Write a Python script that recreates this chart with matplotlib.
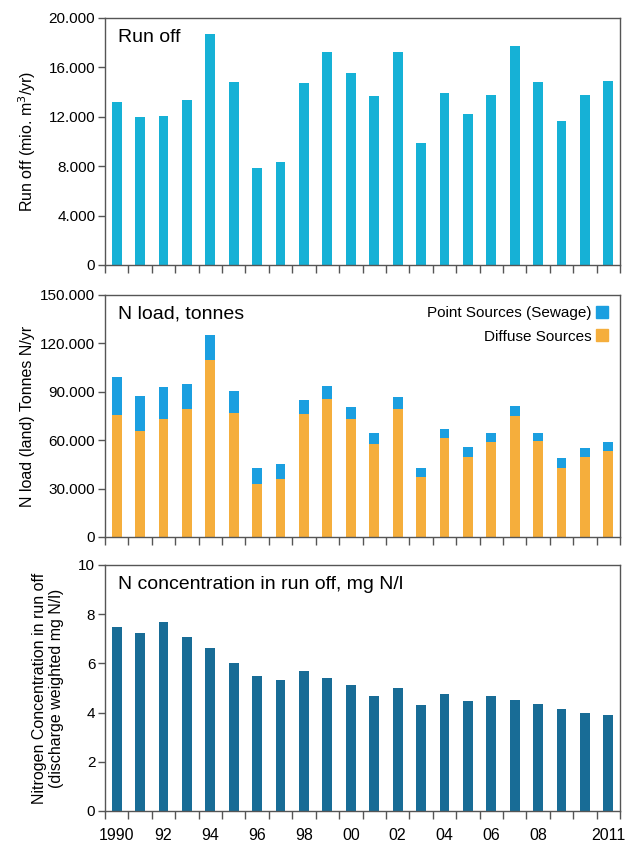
"""Run off, nitrogen load and nitrogen concentration, 1990-2011."""
import matplotlib
matplotlib.use("Agg")
import matplotlib.pyplot as plt
from matplotlib.lines import Line2D
from matplotlib.ticker import FuncFormatter, FixedLocator, MultipleLocator

plt.rcParams["font.family"] = ["Liberation Sans", "DejaVu Sans"]

YEARS = list(range(1990, 2012))
YEAR_LABELS = ["1990", "", "92", "", "94", "", "96", "", "98", "", "00", "",
               "02", "", "04", "", "06", "", "08", "", "", "2011"]

# mio. m3 per year
RUNOFF = [13200, 12000, 12050, 13370, 18720, 14820, 7830, 8380, 14760, 17220, 15560,
          13700, 17250, 9880, 13890, 12200, 13780, 17740, 14820, 11630, 13780, 14920]

# tonnes N per year
DIFFUSE = [75600, 65500, 73400, 79300, 109900, 76600, 33100, 36200, 76200, 85300, 72900,
           57900, 79500, 37000, 61200, 49300, 59000, 74800, 59400, 42900, 49700, 53600]
TOTAL_LOAD = [99400, 87300, 93200, 95100, 125300, 90200, 42900, 45000, 84700, 93300, 80300,
              64700, 86900, 42500, 66800, 55500, 64700, 81000, 64700, 48700, 55300, 58800]
POINT = [t - d for t, d in zip(TOTAL_LOAD, DIFFUSE)]

# discharge weighted mg N/l
CONCENTRATION = [7.5, 7.22, 7.69, 7.07, 6.64, 6.03, 5.47, 5.33, 5.70, 5.39, 5.14,
                 4.69, 5.0, 4.29, 4.76, 4.48, 4.66, 4.52, 4.34, 4.15, 3.97, 3.91]

RUNOFF_COLOR = "#16b1d6"
POINT_COLOR = "#1b9fe0"
DIFFUSE_COLOR = "#f5ae3c"
CONC_COLOR = "#186c96"
SPINE_COLOR = "#555555"
BAR_WIDTH = 0.42


def dotted_thousands(value, _pos):
    return f"{value:,.0f}".replace(",", ".")


def style_axis(axis, ymax, ystep, title, labels=None):
    positions = list(range(len(YEARS)))
    axis.set_xlim(-0.5, len(YEARS) - 0.5)
    axis.set_ylim(0, ymax)
    axis.yaxis.set_major_locator(MultipleLocator(ystep))
    # tick marks sit between the bars, year labels under the bars
    axis.xaxis.set_major_locator(FixedLocator([p - 0.5 for p in positions] + [len(YEARS) - 0.5]))
    axis.set_xticks(positions, labels if labels else [""] * len(positions), minor=True)
    axis.tick_params(axis="x", which="major", direction="out", length=6, width=1,
                     color=SPINE_COLOR, labelbottom=False)
    axis.tick_params(axis="x", which="minor", length=0, labelsize=11.5, pad=12)
    axis.tick_params(axis="y", direction="out", length=5, width=1, color=SPINE_COLOR,
                     labelsize=11, pad=2)
    for spine in axis.spines.values():
        spine.set_color(SPINE_COLOR)
        spine.set_linewidth(1)
    axis.text(0.025, 0.955, title, transform=axis.transAxes, ha="left", va="top", fontsize=14)


figure = plt.figure(figsize=(6.25, 8.43), dpi=100)
left, width = 0.168, 0.824
ax_run = figure.add_axes([left, 1 - 265 / 843, width, 247 / 843])
ax_load = figure.add_axes([left, 1 - 537 / 843, width, 242 / 843])
ax_conc = figure.add_axes([left, 1 - 811 / 843, width, 246 / 843])

x = list(range(len(YEARS)))

ax_run.bar(x, RUNOFF, BAR_WIDTH, color=RUNOFF_COLOR)
style_axis(ax_run, 20000, 4000, "Run off")
ax_run.yaxis.set_major_formatter(FuncFormatter(dotted_thousands))
ax_run.set_ylabel("Run off (mio. m$^3$/yr)", fontsize=11.5, labelpad=8)

ax_load.bar(x, DIFFUSE, BAR_WIDTH, color=DIFFUSE_COLOR)
ax_load.bar(x, POINT, BAR_WIDTH, bottom=DIFFUSE, color=POINT_COLOR)
style_axis(ax_load, 150000, 30000, "N load, tonnes")
ax_load.yaxis.set_major_formatter(FuncFormatter(dotted_thousands))
ax_load.set_ylabel("N load (land) Tonnes N/yr", fontsize=11.5, labelpad=4)
handles = [
    Line2D([], [], linestyle="none", marker="s", markersize=8, color=POINT_COLOR),
    Line2D([], [], linestyle="none", marker="s", markersize=8, color=DIFFUSE_COLOR),
]
ax_load.legend(handles, ["Point Sources (Sewage)", "Diffuse Sources"], loc="upper right",
               frameon=False, markerfirst=False, fontsize=11, handletextpad=0.3,
               handlelength=0.8, labelspacing=0.6, borderaxespad=0.35)

ax_conc.bar(x, CONCENTRATION, BAR_WIDTH, color=CONC_COLOR)
style_axis(ax_conc, 10, 2, "N concentration in run off, mg N/l", labels=YEAR_LABELS)
ax_conc.set_ylabel("Nitrogen Concentration in run off\n(discharge weighted mg N/l)",
                   fontsize=11.5, labelpad=10)

figure.savefig("out.png", dpi=100)
